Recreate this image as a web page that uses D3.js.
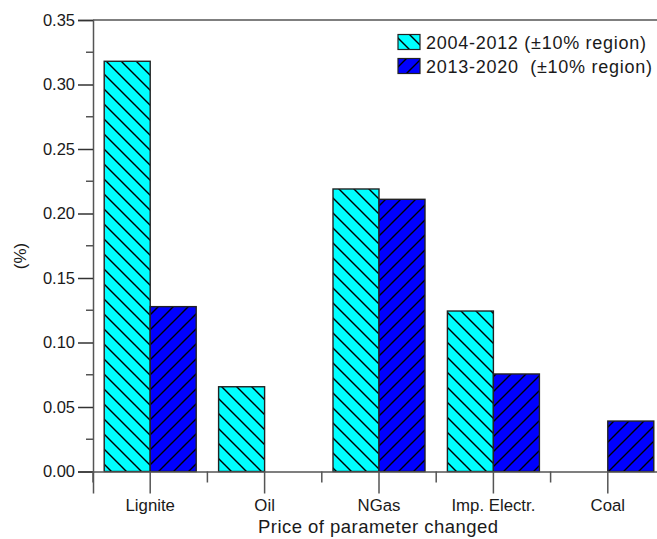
<!DOCTYPE html>
<html>
<head>
<meta charset="utf-8">
<script src="https://cdn.jsdelivr.net/npm/d3@7"></script>
<style>
  html, body { margin: 0; padding: 0; background: #fff; }
  svg { display: block; font-family: "Liberation Sans", Arial, sans-serif; }
</style>
</head>
<body>
<svg id="chart" width="657" height="539"></svg>
<script>
// Sensitivity of the result to a ±10% change in each fuel price
const categories = ["Lignite", "Oil", "NGas", "Imp. Electr.", "Coal"];
const legendLabels = ["2004-2012 (\u00b110% region)", "2013-2020  (\u00b110% region)"];
const series1 = [0.318, 0.0657, 0.219, 0.1244, 0];
const series2 = [0.1278, 0, 0.211, 0.0756, 0.0391];
const yTicks = [0.00, 0.05, 0.10, 0.15, 0.20, 0.25, 0.30, 0.35];
const yMinorTicks = [0.025, 0.075, 0.125, 0.175, 0.225, 0.275, 0.325];

const svg = d3.select("#chart");
const plotLeft = 93, plotTop = 20, plotBottom = 471.5;
const bandW = 114.4;
const plotRight = plotLeft + bandW * categories.length;

const x = d3.scaleBand().domain(categories).range([plotLeft, plotRight]).paddingInner(0).paddingOuter(0);
const y = d3.scaleLinear().domain([0, 0.35]).range([plotBottom, plotTop]);

// Hatch patterns
const defs = svg.append("defs");
function hatch(id, fill, dir) {
  const p = defs.append("pattern").attr("id", id)
    .attr("patternUnits", "userSpaceOnUse").attr("width", 15).attr("height", 15);
  p.append("rect").attr("width", 15).attr("height", 15).attr("fill", fill);
  if (dir === "back") {
    p.append("path").attr("d", "M-2,-2 L17,17 M-2,13 L2,17 M13,-2 L17,2")
      .attr("stroke", "#000").attr("stroke-width", 1.4);
  } else {
    p.append("path").attr("d", "M-2,17 L17,-2 M-2,2 L2,-2 M13,17 L17,13")
      .attr("stroke", "#000").attr("stroke-width", 1.4);
  }
}
hatch("h1", "#00ffff", "back");
hatch("h2", "#0000ff", "fwd");

const barW = 46;
const axisColor = "#555";
const textColor = "#1a1a1a";

// Bars
const g = svg.append("g");
categories.forEach((c, i) => {
  const cx = x(c) + x.bandwidth() / 2;
  if (series1[i] > 0) {
    g.append("rect").attr("x", cx - barW).attr("y", y(series1[i]))
      .attr("width", barW).attr("height", y(0) - y(series1[i]))
      .attr("fill", "url(#h1)").attr("stroke", "#222").attr("stroke-width", 1.4);
  }
  if (series2[i] > 0) {
    g.append("rect").attr("x", cx).attr("y", y(series2[i]))
      .attr("width", barW).attr("height", y(0) - y(series2[i]))
      .attr("fill", "url(#h2)").attr("stroke", "#222").attr("stroke-width", 1.4);
  }
});

// Frame top line
svg.append("line").attr("x1", plotLeft).attr("x2", 657).attr("y1", plotTop).attr("y2", plotTop)
  .attr("stroke", axisColor).attr("stroke-width", 1.5);

// Y axis
const yAxis = svg.append("g").attr("transform", `translate(${plotLeft},0)`)
  .call(d3.axisLeft(y).tickValues(yTicks).tickFormat(d3.format(".2f")).tickSize(15).tickPadding(3));
yAxis.select(".domain").attr("stroke", axisColor).attr("stroke-width", 1.5);
yAxis.selectAll(".tick line").attr("stroke", "#333").attr("stroke-width", 1.5);
yAxis.selectAll(".tick text").attr("font-size", 16.5).attr("fill", textColor)
  .attr("font-family", "Liberation Sans, Arial, sans-serif");
svg.append("g").selectAll("line").data(yMinorTicks).join("line")
  .attr("x1", plotLeft - 7).attr("x2", plotLeft).attr("y1", d => y(d)).attr("y2", d => y(d))
  .attr("stroke", axisColor).attr("stroke-width", 1.5);

// X axis
const xAxis = svg.append("g").attr("transform", `translate(0,${plotBottom})`)
  .call(d3.axisBottom(x).tickSize(22).tickPadding(6));
xAxis.select(".domain").attr("stroke", axisColor).attr("stroke-width", 1.5);
xAxis.selectAll(".tick line").attr("stroke", axisColor).attr("stroke-width", 1.5);
xAxis.selectAll(".tick text").attr("font-size", 16.8).attr("fill", textColor)
  .attr("font-family", "Liberation Sans, Arial, sans-serif");
const bounds = categories.map(c => x(c)).concat([plotRight]);
svg.append("g").selectAll("line").data(bounds).join("line")
  .attr("x1", d => d).attr("x2", d => d).attr("y1", plotBottom).attr("y2", plotBottom + 11)
  .attr("stroke", axisColor).attr("stroke-width", 1.5);

// Axis titles
svg.append("text").attr("x", 258).attr("y", 532.5)
  .attr("font-size", 18.5).attr("fill", textColor)
  .attr("textLength", 240).attr("lengthAdjust", "spacing")
  .text("Price of parameter changed");
svg.append("text").attr("transform", "translate(26,256) rotate(-90)")
  .attr("text-anchor", "middle").attr("font-size", 17).attr("fill", textColor).text("(%)");

// Legend
const legend = svg.append("g");
const legendFills = ["url(#h1)", "url(#h2)"];
const legendWidths = [220, 226];
legendLabels.forEach((label, i) => {
  const ly = 34.5 + i * 24;
  legend.append("rect").attr("x", 398).attr("y", ly).attr("width", 22).attr("height", 15)
    .attr("fill", legendFills[i]).attr("stroke", "#222").attr("stroke-width", 1.2);
  legend.append("text").attr("x", 426).attr("y", ly + 14).attr("fill", textColor)
    .attr("font-size", 18).style("white-space", "pre")
    .attr("textLength", legendWidths[i]).attr("lengthAdjust", "spacing")
    .text(label);
});
</script>
</body>
</html>
